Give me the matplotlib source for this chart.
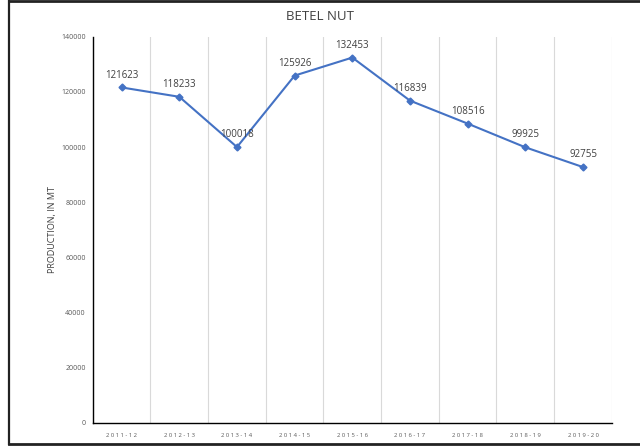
"""
betel nut production line chart
"""
import matplotlib
matplotlib.use("Agg")
import matplotlib.pyplot as plt
from matplotlib.lines import Line2D
import numpy as np

years = ["2011-12", "2012-13", "2013-14", "2014-15", "2015-16",
         "2016-17", "2017-18", "2018-19", "2019-20"]
production = [121623, 118233, 100018, 125926, 132453,
              116839, 108516, 99925, 92755]
y_ticks = [0, 20000, 40000, 60000, 80000, 100000, 120000, 140000]

plt.rcParams['font.family'] = ['Open Sans', 'DejaVu Sans']

fig = plt.figure(figsize=(6.4, 4.46), dpi=100)
ax = fig.add_axes([0.145, 0.0516, 0.811, 0.866])

x = np.arange(len(years))
ax.plot(x, production, color='#4472C4', linewidth=1.5, marker='D',
        markersize=3.5, zorder=3)
for xi, val in zip(x, production):
    ax.annotate(str(val), (xi, val), xytext=(0, 5), textcoords='offset points',
                ha='center', va='bottom', fontsize=7, color='#404040')

ax.set_xlim(-0.5, len(years) - 0.5)
ax.set_ylim(0, 140000)
ax.set_xticks(x)
ax.set_xticklabels([" ".join(y) for y in years], fontsize=4.2, color='#595959')
ax.set_xticks(np.arange(len(years) + 1) - 0.5, minor=True)
ax.grid(which='minor', axis='x', color='#d9d9d9', linewidth=0.8)
ax.tick_params(axis='x', which='both', length=0, pad=7)
ax.set_yticks(y_ticks)
ax.set_yticklabels([str(v) for v in y_ticks], fontsize=5, color='#595959')
ax.tick_params(axis='y', length=0, pad=5)

for s in ['top', 'right']:
    ax.spines[s].set_visible(False)
ax.spines['left'].set_color('black')
ax.spines['bottom'].set_color('black')
ax.spines['left'].set_linewidth(1.0)
ax.spines['bottom'].set_linewidth(1.0)

ax.set_ylabel("PRODUCTION, IN MT", fontsize=6.5, color='#404040', labelpad=3)
fig.text(0.5, 0.962, "BETEL NUT", ha='center', va='center',
         fontsize=9.5, color='#404040')

# border around the chart area
fig.add_artist(Line2D([8.5 / 640, 8.5 / 640], [1 - 444 / 446, 1], color='#222222',
                      linewidth=1.6, transform=fig.transFigure))
fig.add_artist(Line2D([8.5 / 640, 1], [1 - 1 / 446, 1 - 1 / 446], color='#222222',
                      linewidth=2, transform=fig.transFigure))
fig.add_artist(Line2D([8.5 / 640, 1], [1 - 444 / 446, 1 - 444 / 446], color='#222222',
                      linewidth=2, transform=fig.transFigure))

fig.savefig("out.png", dpi=100)
